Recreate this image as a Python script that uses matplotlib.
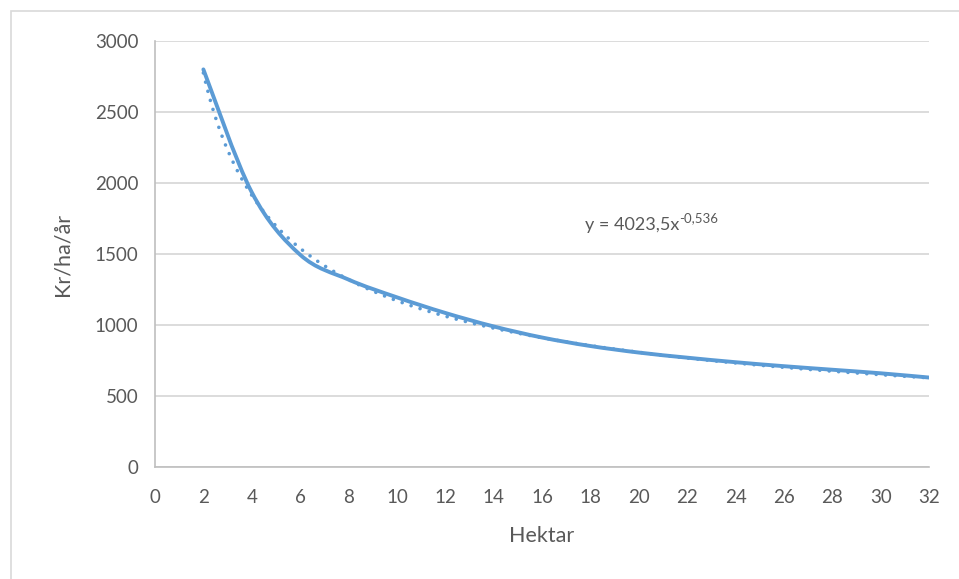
import numpy as np
import matplotlib
matplotlib.use("Agg")
import matplotlib.pyplot as plt
from matplotlib.path import Path
from matplotlib.patches import PathPatch, Rectangle

### DATA ###

hektar = [2, 4, 6, 8, 10, 12, 14, 16, 18, 20, 22, 24, 26, 28, 30, 32]
kr_ha_ar = [2800, 1935, 1495, 1320, 1195, 1085, 990, 912, 852, 806, 770, 738, 710, 685, 660, 630]

# power trendline as shown on the chart: y = a * x^b
trend_a = 4023.5
trend_b = -0.536
trend_label = "y = 4023,5x"
trend_exp_label = "-0,536"

x_ticks = list(range(0, 33, 2))
y_ticks = [0, 500, 1000, 1500, 2000, 2500, 3000]

blue = "#5B9BD5"
text_col = "#595959"
grid_col = "#D9D9D9"

plt.rcParams["font.family"] = ["Lato", "DejaVu Sans"]

fig = plt.figure(figsize=(9.59, 5.79), dpi=100)
ax = fig.add_axes([155 / 959, 1 - 467 / 579, (929 - 155) / 959, (467 - 41) / 579])

# outer chart border (like the excel chart area)
fig.patches.append(Rectangle((11 / 959, -0.1), 1.2, 1.1 - 11 / 579, transform=fig.transFigure,
                             fill=False, edgecolor=grid_col, lw=1.2))

# smoothed line, excel style (bezier through the points)
pts = np.column_stack([hektar, kr_ha_ar]).astype(float)
verts = [pts[0]]
codes = [Path.MOVETO]
for i in range(len(pts) - 1):
    p0 = pts[i - 1] if i > 0 else pts[i]
    p1 = pts[i]
    p2 = pts[i + 1]
    p3 = pts[i + 2] if i + 2 < len(pts) else pts[i + 1]
    c1 = p1 + (p2 - p0) / 6.0
    c2 = p2 - (p3 - p1) / 6.0
    verts += [c1, c2, p2]
    codes += [Path.CURVE4] * 3
ax.add_patch(PathPatch(Path(verts, codes), fill=False, edgecolor=blue, lw=2.8,
                       capstyle="round", joinstyle="round", zorder=3))

# trendline
tx = np.linspace(hektar[0], hektar[-1], 300)
ax.plot(tx, trend_a * tx ** trend_b, color=blue, lw=2.6, linestyle=(0, (0.01, 2.6)),
        dash_capstyle="round", zorder=2)

t = ax.text(0.555, 0.568, trend_label, transform=ax.transAxes, fontsize=13,
            color=text_col, ha="left", va="center")
ax.annotate(trend_exp_label, xy=(1, 0.95), xycoords=t, fontsize=9.5, color=text_col,
            ha="left", va="center")

ax.set_xlim(0, 32)
ax.set_ylim(0, 3000)
ax.set_xticks(x_ticks)
ax.set_yticks(y_ticks)
ax.tick_params(length=0, labelsize=13.5, labelcolor=text_col)
ax.tick_params(axis="x", pad=16)
ax.tick_params(axis="y", pad=12)
ax.grid(axis="y", color=grid_col, lw=1.3)
ax.set_axisbelow(True)
for s in ["top", "right"]:
    ax.spines[s].set_visible(False)
for s in ["left", "bottom"]:
    ax.spines[s].set_color("#BFBFBF")
    ax.spines[s].set_linewidth(1.2)

ax.set_xlabel("Hektar", fontsize=15.5, color=text_col, labelpad=14)
ax.set_ylabel("Kr/ha/år", fontsize=15.5, color=text_col, labelpad=16)

fig.savefig("out.png", dpi=100)
